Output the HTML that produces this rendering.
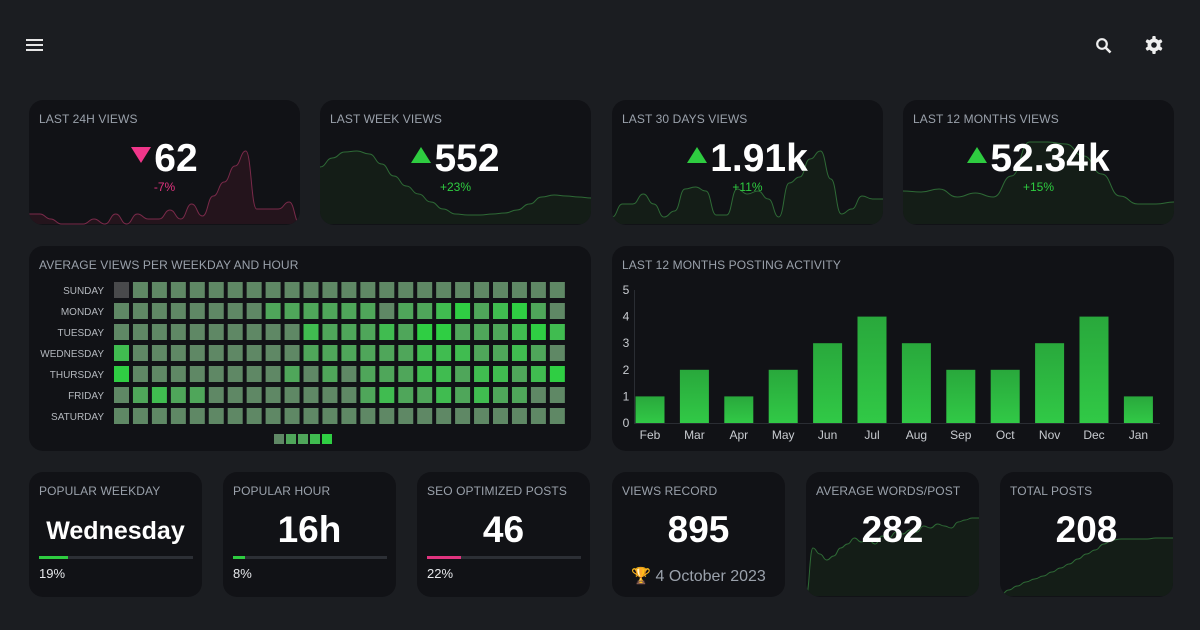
<!DOCTYPE html>
<html><head><meta charset="utf-8">
<style>
body{margin:0;width:1200px;height:630px;background:#1b1d21;font-family:"Liberation Sans",sans-serif;position:relative;overflow:hidden;color:#fff}
.card{position:absolute;background:#111216;border-radius:14px;overflow:hidden}
.t{position:absolute;left:10px;top:12px;font-size:12px;color:#9aa1ab;letter-spacing:.1px}
.big{position:absolute;left:0;right:0;text-align:center;font-weight:bold;color:#fff}
svg{position:absolute;left:0;top:0}
.pct{position:absolute;left:0;right:0;text-align:center;font-size:12px}
.bar{position:absolute;left:10px;top:84px;width:154px;height:3px;background:#2c2f35}
.bar i{display:block;height:3px}
.pv{position:absolute;left:10px;top:94px;font-size:13px;color:#e5e7ea}
.up{display:inline-block;width:0;height:0;border-left:10px solid transparent;border-right:10px solid transparent;border-bottom:16px solid #2ecc40;vertical-align:8px;margin-right:3px}
.dn{display:inline-block;width:0;height:0;border-left:10px solid transparent;border-right:10px solid transparent;border-top:16px solid #f0368a;vertical-align:8px;margin-right:3px}
</style></head><body>
<div style="position:absolute;left:26px;top:39px;width:17px">
<div style="height:2px;background:#e6e6e6;margin-bottom:3px"></div><div style="height:2px;background:#e6e6e6;margin-bottom:3px"></div><div style="height:2px;background:#e6e6e6"></div></div>
<svg style="left:1095px;top:37px" width="18" height="18" viewBox="0 0 18 18"><circle cx="7" cy="7" r="4.8" fill="none" stroke="#eee" stroke-width="2.2"/><line x1="10.5" y1="10.5" x2="15.5" y2="15.5" stroke="#eee" stroke-width="2.6"/></svg>
<svg style="left:1144px;top:35px" width="20" height="20" viewBox="0 0 20 20"><g fill="#eee"><circle cx="10" cy="10" r="6.5"/><rect x="8.3" y="1" width="3.4" height="18" rx="1"/><rect x="8.3" y="1" width="3.4" height="18" rx="1" transform="rotate(60 10 10)"/><rect x="8.3" y="1" width="3.4" height="18" rx="1" transform="rotate(120 10 10)"/></g><circle cx="10" cy="10" r="2.8" fill="#1b1d21"/></svg>

<div class="card" style="left:29px;top:100px;width:271px;height:125px">
<svg id="sp0" width="271" height="125"></svg>
<div class="t">LAST 24H VIEWS</div>
<div class="big" style="top:37px;font-size:39px"><span class="dn"></span>62</div>
<div class="pct" style="top:80px;color:#e0347f">-7%</div></div>

<div class="card" style="left:320px;top:100px;width:271px;height:125px">
<svg id="sp1" width="271" height="125"></svg>
<div class="t">LAST WEEK VIEWS</div>
<div class="big" style="top:37px;font-size:39px"><span class="up"></span>552</div>
<div class="pct" style="top:80px;color:#2ecc40">+23%</div></div>

<div class="card" style="left:612px;top:100px;width:271px;height:125px">
<svg id="sp2" width="271" height="125"></svg>
<div class="t">LAST 30 DAYS VIEWS</div>
<div class="big" style="top:37px;font-size:39px"><span class="up"></span>1.91k</div>
<div class="pct" style="top:80px;color:#2ecc40">+11%</div></div>

<div class="card" style="left:903px;top:100px;width:271px;height:125px">
<svg id="sp3" width="271" height="125"></svg>
<div class="t">LAST 12 MONTHS VIEWS</div>
<div class="big" style="top:37px;font-size:39px"><span class="up"></span>52.34k</div>
<div class="pct" style="top:80px;color:#2ecc40">+15%</div></div>

<div class="card" style="left:29px;top:246px;width:562px;height:205px">
<div class="t" style="top:12px">AVERAGE VIEWS PER WEEKDAY AND HOUR</div>
<svg id="heat" width="562" height="205"></svg></div>

<div class="card" style="left:612px;top:246px;width:562px;height:205px">
<div class="t" style="top:12px">LAST 12 MONTHS POSTING ACTIVITY</div>
<svg id="bars" width="562" height="205"></svg></div>

<div class="card" style="left:29px;top:472px;width:173px;height:125px">
<div class="t">POPULAR WEEKDAY</div>
<div class="big" style="top:45px;font-size:25px">Wednesday</div>
<div class="bar"><i style="width:19%;background:#2ecc40"></i></div>
<div class="pv">19%</div></div>

<div class="card" style="left:223px;top:472px;width:173px;height:125px">
<div class="t">POPULAR HOUR</div>
<div class="big" style="top:37px;font-size:37px">16h</div>
<div class="bar"><i style="width:8%;background:#2ecc40"></i></div>
<div class="pv">8%</div></div>

<div class="card" style="left:417px;top:472px;width:173px;height:125px">
<div class="t">SEO OPTIMIZED POSTS</div>
<div class="big" style="top:37px;font-size:37px">46</div>
<div class="bar"><i style="width:22%;background:#e0347f"></i></div>
<div class="pv">22%</div></div>

<div class="card" style="left:612px;top:472px;width:173px;height:125px">
<div class="t">VIEWS RECORD</div>
<div class="big" style="top:37px;font-size:37px">895</div>
<div style="position:absolute;left:0;right:0;top:94px;text-align:center;font-size:16px;color:#9aa1ab">🏆 4 October 2023</div></div>

<div class="card" style="left:806px;top:472px;width:173px;height:125px">
<svg id="sp4" width="173" height="125"></svg>
<div class="t">AVERAGE WORDS/POST</div>
<div class="big" style="top:37px;font-size:37px">282</div></div>

<div class="card" style="left:1000px;top:472px;width:173px;height:125px">
<svg id="sp5" width="173" height="125"></svg>
<div class="t">TOTAL POSTS</div>
<div class="big" style="top:37px;font-size:37px">208</div></div>

<script>
const views24h=[10,10,5,0,0,0,5,0,10,0,10,5,5,14,5,20,8,28,42,58,73,15,15,15,22,0];
const viewsWeek=[57,66,72,73,70,60,48,38,30,22,15,10,9,9,10,11,14,20,27,29,28,27,26];
const views30d=[7,20,20,30,20,7,13,35,37,33,9,9,35,30,33,25,7,41,47,65,73,45,10,15,28,25,25];
const views12m=[33,32,35,27,31,27,48,82,82,80,68,50,28,20,20,22];
const wordsAvg=[0,48,42,36,40,48,52,58,54,56,52,60,58,64,62,66,64,70,68,72,70,68,74,76,78,78];
const postsTotal=[0,6,10,14,17,20,24,28,32,37,42,46,52,56,57,57,57,57,58,58,58];
const ns="http://www.w3.org/2000/svg";
function spark(id,vals,w,h,base,col,fill,name){
 const s=document.getElementById(id);const n=vals.length;
 const x=i=>i*(w)/(n-1), y=v=>base-v;
 let d="M"+x(0)+","+y(vals[0]);
 for(let i=1;i<n;i++){const cx=(x(i-1)+x(i))/2;d+=" C"+cx+","+y(vals[i-1])+" "+cx+","+y(vals[i])+" "+x(i)+","+y(vals[i]);}
 const a=document.createElementNS(ns,"path");a.setAttribute("d",d+" L"+w+","+base+" L0,"+base+"Z");a.setAttribute("fill",fill);
 
 
 s.appendChild(a);
 const p=document.createElementNS(ns,"path");p.setAttribute("d",d);p.setAttribute("fill","none");p.setAttribute("stroke",col);p.setAttribute("stroke-width","1");
 
 
 s.appendChild(p);
}
spark("sp0",views24h,271,125,124,"#7a2a4a","#24141c","views-24h");
spark("sp1",viewsWeek,271,125,124,"#2e6a36","#141d17","views-week");
spark("sp2",views30d,271,125,124,"#2e6a36","#141d17","views-30d");
spark("sp3",views12m,271,125,124,"#2e6a36","#141d17","views-12m");
spark("sp4",wordsAvg,173,125,124,"#2e6a36","#141d17","words-avg");
spark("sp5",postsTotal,173,125,124,"#2e6a36","#141d17","posts-total");

const days=["SUNDAY","MONDAY","TUESDAY","WEDNESDAY","THURSDAY","FRIDAY","SATURDAY"];
const heatLevels=[
[0,1,1,1,1,1,1,1,1,1,1,1,1,1,1,1,1,1,1,1,1,1,1,1],
[1,1,1,1,1,1,1,1,2,2,2,2,2,2,1,2,2,3,4,2,3,4,2,1],
[1,1,1,1,1,1,1,1,1,1,3,2,2,2,3,2,4,4,2,2,2,3,4,3],
[3,1,1,1,1,1,1,1,1,1,2,2,2,2,2,2,3,3,3,2,2,3,2,1],
[4,1,1,1,1,1,1,1,1,2,1,2,1,2,2,2,3,3,2,3,3,2,3,4],
[1,2,3,2,2,1,1,1,1,1,1,1,1,2,3,2,2,3,2,3,2,2,1,1],
[1,1,1,1,1,1,1,1,1,1,1,1,1,1,1,1,1,1,1,1,1,1,1,1]];
const legendLevels=[1,2,2,3,4];
const heatColors=["#494a4c","#5f8865","#4fa65a","#40bc50","#2fce43"];
(function(){
 const s=document.getElementById("heat");
 const cx=c=>85+c*18.95, ry=r=>36+r*21;
 days.forEach((d,r)=>{
  const t=document.createElementNS(ns,"text");t.setAttribute("x",75);t.setAttribute("y",ry(r)+12);t.setAttribute("text-anchor","end");
  t.setAttribute("font-size","10");t.setAttribute("fill","#b4b8be");t.textContent=d;
  
  
  s.appendChild(t);
  heatLevels[r].forEach((l,c)=>{
   const e=document.createElementNS(ns,"rect");e.setAttribute("x",cx(c));e.setAttribute("y",ry(r));e.setAttribute("width",15);e.setAttribute("height",16);e.setAttribute("fill",heatColors[l]);
   
   
   s.appendChild(e);
  });
 });
 legendLevels.forEach((l,i)=>{
  const e=document.createElementNS(ns,"rect");e.setAttribute("x",245+i*12);e.setAttribute("y",188);e.setAttribute("width",10);e.setAttribute("height",10);e.setAttribute("fill",heatColors[l]);
  
  
  s.appendChild(e);
 });
})();

const months=["Feb","Mar","Apr","May","Jun","Jul","Aug","Sep","Oct","Nov","Dec","Jan"];
const posts=[1,2,1,2,3,4,3,2,2,3,4,1];
const yTicks=[0,1,2,3,4,5];
(function(){
 const s=document.getElementById("bars");
 s.innerHTML='<defs><linearGradient id="bg" x1="0" y1="0" x2="0" y2="1"><stop offset="0" stop-color="#29a83c"/><stop offset="1" stop-color="#31c946"/></linearGradient></defs>';
 const y=v=>177-v*26.6, x=i=>38+i*44.4;
 yTicks.forEach(v=>{const t=document.createElementNS(ns,"text");t.setAttribute("x",14);t.setAttribute("y",y(v)+4);t.setAttribute("text-anchor","middle");t.setAttribute("font-size","12");t.setAttribute("fill","#c9ccd1");t.textContent=v;
  
  
  s.appendChild(t);});
 const ax=document.createElementNS(ns,"path");ax.setAttribute("d","M22.5,"+y(5)+" V177.5 H548");ax.setAttribute("stroke","#2a2d33");ax.setAttribute("fill","none");
 
 
 s.appendChild(ax);
 posts.forEach((v,i)=>{
  const r=document.createElementNS(ns,"rect");r.setAttribute("x",x(i)-14.5);r.setAttribute("y",y(v));r.setAttribute("width",29);r.setAttribute("height",177-y(v));r.setAttribute("fill","url(#bg)");
  
  
  s.appendChild(r);
  const t=document.createElementNS(ns,"text");t.setAttribute("x",x(i));t.setAttribute("y",193);t.setAttribute("text-anchor","middle");t.setAttribute("font-size","12");t.setAttribute("fill","#c9ccd1");t.textContent=months[i];
  
  
  s.appendChild(t);
 });
})();
</script>
</body></html>
